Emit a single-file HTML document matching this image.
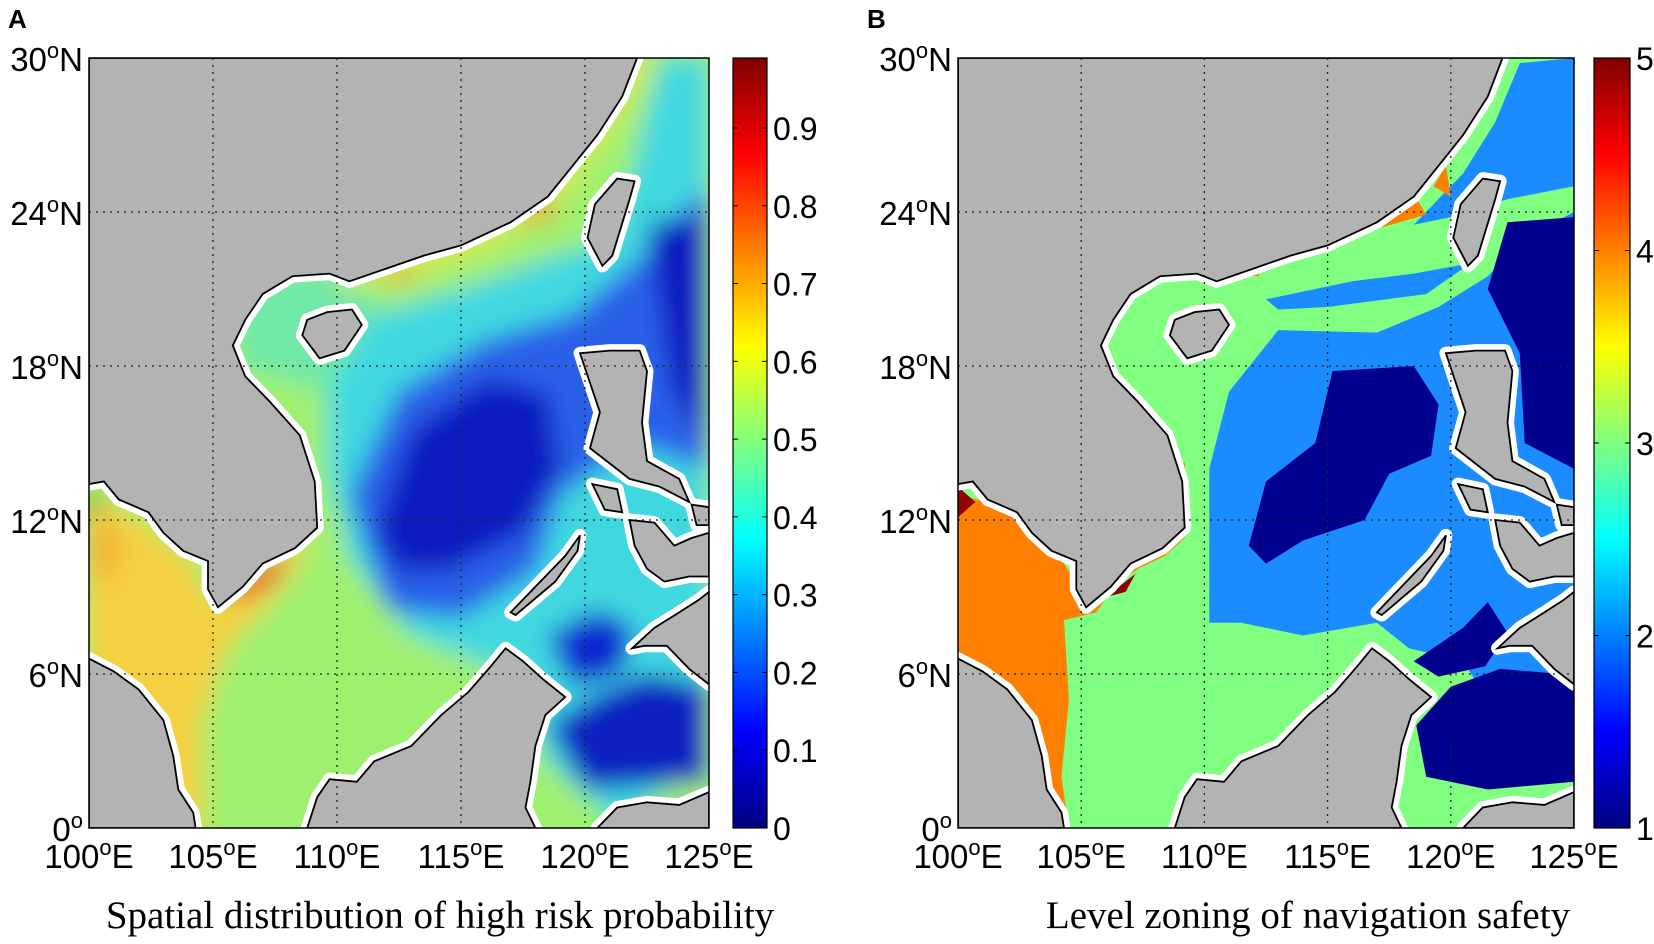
<!DOCTYPE html>
<html><head><meta charset="utf-8"><style>
body{margin:0;background:#fff;width:1654px;height:944px;overflow:hidden}
svg{position:absolute;left:0;top:0}
text{font-family:"Liberation Sans",sans-serif}
</style></head><body>
<svg id="s" width="1654" height="944">
<defs>
<linearGradient id="jet" x1="0" y1="1" x2="0" y2="0">
<stop offset="0" stop-color="#000080"/><stop offset="0.125" stop-color="#0000ff"/><stop offset="0.375" stop-color="#00ffff"/><stop offset="0.625" stop-color="#ffff00"/><stop offset="0.875" stop-color="#ff0000"/><stop offset="1" stop-color="#800000"/>
</linearGradient>
<filter id="blur" x="-10%" y="-10%" width="120%" height="120%"><feGaussianBlur stdDeviation="12"/></filter>
<clipPath id="clipA"><rect x="89" y="58" width="620" height="770"/></clipPath>
<clipPath id="clipB"><rect x="958" y="58" width="616" height="770"/></clipPath>
</defs>
</svg>
<script>
const lonTicks=[100,105,110,115,120,125];
const latTicks=[0,6,12,18,24,30];
const cbTicksA=[0,0.1,0.2,0.3,0.4,0.5,0.6,0.7,0.8,0.9];
const cbTicksB=[1,2,3,4,5];
const cbRangeA=[0,0.99];
const cbRangeB=[1,5];
const NS='http://www.w3.org/2000/svg';
const svg=document.getElementById('s');
function mk(tag,attrs,parent){const e=document.createElementNS(NS,tag);for(const k in attrs)e.setAttribute(k,attrs[k]);(parent||svg).appendChild(e);return e;}
const land={
 mainland:[[100,30],[122.1,30],[121.5,28.5],[120.5,27],[119.5,25.8],[118.5,24.6],[117,23.6],[115,22.7],[113.5,22.3],[112,21.8],[110.5,21.3],[109.7,21.6],[108.2,21.5],[107,20.8],[106.3,19.8],[105.8,18.8],[106.3,17.6],[107.3,16.6],[108.5,15.3],[109.1,13.5],[109.2,11.7],[108.3,10.9],[107,10.3],[106.2,9.4],[105.2,8.6],[104.8,9.3],[104.8,10.4],[103.8,10.8],[103,11.5],[102.4,12.3],[101.2,12.8],[100.6,13.5],[100,13.4]],
 hainan:[[108.6,19.2],[109.3,18.3],[110.3,18.6],[111,19.6],[110.6,20.2],[109.6,20.1],[108.8,19.8]],
 malay:[[100,6.6],[101,6.1],[102,5.4],[103,4.2],[103.4,2.8],[103.6,1.5],[104.2,0.6],[104.3,0],[100,0]],
 borneo:[[108.8,0],[109.2,1.2],[109.7,1.9],[110.8,1.8],[111.5,2.6],[113,3.2],[114.2,4.4],[115.3,5.3],[116.2,6.3],[116.8,7],[117.5,6.5],[118.3,5.8],[119.2,5.1],[118.4,4.4],[118,3.2],[117.8,1.8],[117.6,0.8],[118,0]],
 taiwan:[[120.1,23],[120.7,21.9],[121.1,22.3],[121.8,24.5],[122,25.2],[121.3,25.3],[120.4,24.3]],
 luzon:[[119.8,18.5],[120.6,16.2],[120.2,14.8],[121,14.2],[121.8,13.6],[123,13.3],[124.2,12.7],[123.8,13.6],[122.5,14.3],[122.3,15.8],[122.5,17.8],[122.2,18.6],[121,18.6]],
 mindoro:[[120.3,13.4],[121.3,13.2],[121.5,12.3],[120.8,12.4]],
 palawan:[[117.2,8.3],[118.8,9.6],[119.7,10.8],[119.8,11.4],[119.2,10.6],[117.8,9.2],[117,8.4]],
 visayas:[[121.8,12],[122.8,11.9],[123.6,11],[124.3,11.3],[125,11.5],[125,9.8],[124.2,9.8],[123.2,9.6],[122.5,10.1],[122,11]],
 samar:[[124.3,12.6],[125,12.5],[125,11.8],[124.5,11.8]],
 mindanao:[[121.9,7],[122.8,7.8],[123.8,8.4],[124.6,8.9],[125,9.2],[125,5.6],[124.2,6.2],[123.3,7.1],[122.4,7.1]],
 sulawesi:[[120.5,0],[121.3,0.8],[122.5,1],[123.8,0.9],[125,1.4],[125,0]]
};
const seaA=[
 {c:'#a0f070',p:[[95,-5],[130,-5],[130,35],[95,35]]},
 {c:'#70e8a8',p:[[106,21],[110,22],[112,20],[109.5,17],[106,18]]},
 {c:'#d8e850',p:[[110,21.5],[114,23],[117,24],[120,26.5],[122,30],[123,30],[121,27],[119,24.5],[116,22.5],[113,21.5],[110,21]]},
 {c:'#40d8e0',p:[[109.6,17],[111.5,20],[115,21],[118,22],[121,23],[122,26],[123,30],[125,30],[125,3],[121.5,0],[118.5,2.5],[117,6],[113,7.5],[110.5,10.5],[109.6,14]]},
 {c:'#2c60e8',p:[[110.5,13],[112.5,17],[116,19],[119.5,20],[122,22],[125,25],[125,14],[122,15],[119,13],[118,10],[115,8.2],[112,8.5]]},
 {c:'#0a1cc0',p:[[111.5,11.5],[113,15.5],[116,17.5],[118.5,17],[119,14],[117.5,11.5],[114.5,10],[112.5,10]]},
 {c:'#0a1cc0',p:[[122.5,23.5],[125,24],[125,15],[123.5,17]]},
 {c:'#1028d0',p:[[118.5,7.5],[120.5,8.5],[122,7.8],[121.5,6],[119.5,5.5]]},
 {c:'#0820c0',p:[[118.5,4],[120.5,5.2],[122.5,6],[125,5.5],[125,1.8],[120,1.5]]},
 {c:'#f5d040',p:[[100,13],[102,12],[104,10.5],[105,8.6],[107,10],[108.6,11.3],[109,12],[108.6,10.5],[107,8.5],[105.5,7],[104.5,4],[104.6,0],[100,0]]},
 {c:'#f5b030',p:[[100,12.5],[101.5,11],[100.5,9.5],[100,9.5]]},
 {c:'#e84020',p:[[105.5,9.2],[107,10.3],[108,10.8],[107.5,9.6],[106,8.8]]},
 {c:'#900000',p:[[100,13.2],[100.6,12.7],[100,12.2]]},
 {c:'#f08020',p:[[117.2,23.4],[118.5,24.6],[118.8,23.8]]},
 {c:'#f08020',p:[[111.5,21.4],[113,21.9],[113,21.3]]}
];
const seaB=[
 {c:'#80ff80',p:[[95,-5],[130,-5],[130,35],[95,35]]},
 {c:'#1a8cff',p:[[110.2,11],[110.2,14],[111,17],[113,19.4],[117,19.3],[119.5,20.3],[121.5,21.5],[123,23],[125,24],[125,2.5],[122,2],[121.5,5],[120.5,6.5],[118.3,7],[117,8],[114,7.5],[111.5,8],[110.2,8]]},
 {c:'#1a8cff',p:[[112.5,20.6],[116,21.3],[118.5,21.6],[120.8,22],[119,20.8],[115,20.3],[113,20.2]]},
 {c:'#1a8cff',p:[[118.5,23.5],[120.5,25.5],[121.8,27.5],[122.8,29.8],[125,30],[125,25],[122.3,24.5],[120,23.8]]},
 {c:'#00008f',p:[[111.8,11],[112.5,13.5],[114.5,15],[115.2,17.8],[118.5,18],[119.5,16.5],[119.2,14.5],[117.5,13.8],[116.5,12],[114,11.2],[112.5,10.3]]},
 {c:'#00008f',p:[[122.3,23.6],[125,23.8],[125,14],[123,15],[122.8,18.5],[121.5,21]]},
 {c:'#00008f',p:[[118.5,6.5],[120.5,7.8],[121.5,8.8],[122.3,7.6],[121.4,6.3],[119.5,5.9]]},
 {c:'#00008f',p:[[118.6,4],[120,5.5],[122,6.2],[124.5,6],[125,5.6],[125,1.8],[121.5,1.5],[119,2]]},
 {c:'#ff8000',p:[[100,13],[101.5,12.6],[102.5,12],[104,10.8],[104.8,9.5],[105.2,8.7],[106.2,9.3],[107.3,10.1],[108.4,10.6],[109.2,11.3],[109.3,12.5],[109.2,14.3],[108.3,11],[106.5,9.6],[105.6,8.4],[104.3,8.1],[104.5,5],[104.2,2],[104.5,0],[104.1,0],[103.5,2.5],[102.8,4.3],[101.8,5.3],[100,6.2]]},
 {c:'#900000',p:[[100,13.3],[100.7,12.7],[100,12.1]]},
 {c:'#900000',p:[[106,9],[107.2,9.9],[106.8,9.2]]},
 {c:'#ff8000',p:[[117.2,23.4],[118.5,24.7],[119,23.9]]},
 {c:'#ff8000',p:[[119.3,25],[119.8,25.8],[120,24.6]]},
 {c:'#ff8000',p:[[110.8,21.6],[112.3,22],[112.2,21.5]]}
];
function panel(id,x0,x1,y0,y1,sea,blurred,cbx,cbw,cbTicks,cbRange,cbDec,letter,letterX,title,titleX){
 const g=mk('g',{});
 const X=lon=>x0+(lon-100)*(x1-x0)/25, Y=lat=>y1-lat*(y1-y0)/30;
 const pts=p=>p.map(q=>X(q[0]).toFixed(1)+','+Y(q[1]).toFixed(1)).join(' ');
 const cl=mk('g',{'clip-path':'url(#clip'+id+')'},g);
 const sg=mk('g',blurred?{filter:'url(#blur)'}:{},cl);
 sea.forEach((s,i)=>{const e=mk('polygon',{points:pts(s.p),fill:s.c},sg);
  
  });
 for(const k in land){const e=mk('polygon',{points:pts(land[k]),fill:'#fff',stroke:'#fff','stroke-width':13,'stroke-linejoin':'round'},cl);
  
  }
 for(const k in land){const e=mk('polygon',{points:pts(land[k]),fill:'#b3b3b3',stroke:'#000','stroke-width':1.8},cl);
  
  }
 lonTicks.forEach(l=>{const x=X(l);
  if(l>100&&l<125){const e=mk('line',{x1:x,x2:x,y1:y0,y2:y1,stroke:'#222','stroke-width':1.3,'stroke-dasharray':'2 5'},g);
   }
  const t=mk('text',{x:x,y:y1+40,'font-size':33,'text-anchor':'middle'},g);
  
  t.innerHTML=l+'<tspan dy="-13" font-size="22">o</tspan><tspan dy="13">E</tspan>';});
 latTicks.forEach(l=>{const y=Y(l);
  if(l>0&&l<30){const e=mk('line',{x1:x0,x2:x1,y1:y,y2:y,stroke:'#222','stroke-width':1.3,'stroke-dasharray':'2 5'},g);
   }
  const t=mk('text',{x:x0-6,y:y+13,'font-size':33,'text-anchor':'end'},g);
  
  t.innerHTML=l+'<tspan dy="-13" font-size="22">o</tspan>'+(l?'<tspan dy="13">N</tspan>':'');});
 mk('rect',{x:x0,y:y0,width:x1-x0,height:y1-y0,fill:'none',stroke:'#000','stroke-width':1.5},g);
 const cb=mk('g',{},g);
 mk('rect',{x:cbx,y:y0,width:cbw,height:y1-y0,fill:'url(#jet)',stroke:'#000','stroke-width':1.2},cb);
 cbTicks.forEach(v=>{const y=y1-(v-cbRange[0])/(cbRange[1]-cbRange[0])*(y1-y0);
  mk('line',{x1:cbx,x2:cbx+5,y1:y,y2:y,stroke:'#000'},cb);mk('line',{x1:cbx+cbw-5,x2:cbx+cbw,y1:y,y2:y,stroke:'#000'},cb);
  const t=mk('text',{x:cbx+cbw+6,y:y+12,'font-size':32},cb);
  
  t.textContent=cbDec?v.toFixed(1).replace(/^0\.0$/,'0'):String(v);});
 const L=mk('text',{x:letterX,y:28,'font-size':26,'font-weight':'bold'},g);
 L.textContent=letter;
 const T=mk('text',{x:titleX,y:928,'font-size':39,'text-anchor':'middle',style:'font-family:"Liberation Serif",serif'},g);
 T.textContent=title;
}
panel('A',89,709,58,828,seaA,true,733,34,cbTicksA,cbRangeA,true,'A',8,'Spatial distribution of high risk probability',440);
panel('B',958,1574,58,828,seaB,false,1594,36,cbTicksB,cbRangeB,false,'B',867,'Level zoning of navigation safety',1308);
</script>
</body></html>
